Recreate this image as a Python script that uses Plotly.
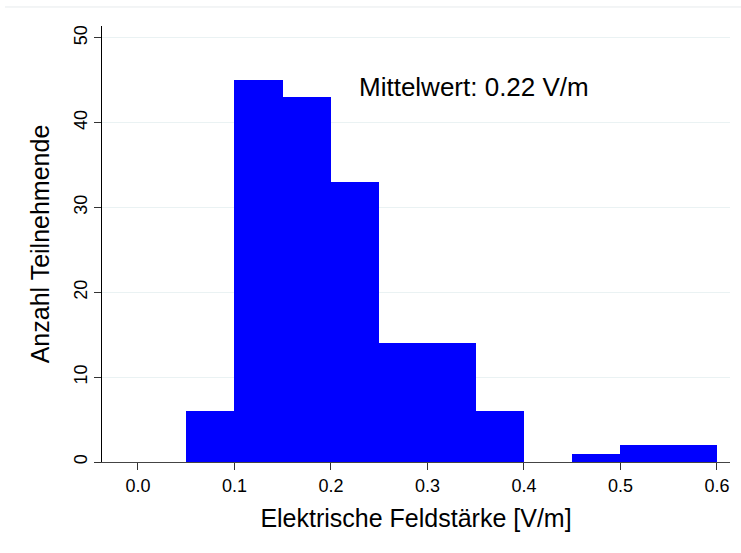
import plotly.graph_objects as go

# Histogram data: bin left edges (V/m) and counts
bin_left = [0.05, 0.10, 0.15, 0.20, 0.25, 0.30, 0.35, 0.40, 0.45, 0.50, 0.55]
counts = [6, 45, 43, 33, 14, 14, 6, 0, 1, 2, 2]
bin_width = 0.05
x_ticks = [0.0, 0.1, 0.2, 0.3, 0.4, 0.5, 0.6]
x_tick_labels = ["0.0", "0.1", "0.2", "0.3", "0.4", "0.5", "0.6"]
y_ticks = [0, 10, 20, 30, 40, 50]
mean_label = "Mittelwert: 0.22 V/m"

centers = [b + bin_width / 2 for b in bin_left]

FONT = "Liberation Sans, Arial, sans-serif"

fig = go.Figure()
fig.add_trace(go.Bar(
    x=centers, y=counts, width=[bin_width] * len(counts),
    marker=dict(color="#0000ff", line=dict(width=0)),
    hoverinfo="x+y",
))

fig.update_layout(
    width=741, height=553,
    margin=dict(l=102, r=11, t=26, b=91),
    paper_bgcolor="white", plot_bgcolor="white",
    showlegend=False,
    bargap=0,
    font=dict(family=FONT, color="black"),
    xaxis=dict(
        range=[-0.0373, 0.6135],
        tickvals=x_ticks, ticktext=x_tick_labels,
        ticks="outside", ticklen=7, tickcolor="#333",
        tickfont=dict(size=18, family=FONT),
        showgrid=False, zeroline=False,
        showline=True, linecolor="#444", linewidth=1,
        title=dict(text="Elektrische Feldstärke [V/m]", font=dict(size=25, family=FONT), standoff=14),
    ),
    yaxis=dict(
        range=[0, 51.4],
        tickvals=y_ticks,
        ticks="outside", ticklen=7, tickcolor="#333",
        tickangle=-90,
        tickfont=dict(size=18, family=FONT),
        showgrid=True, gridcolor="#eaf2f3", gridwidth=1,
        zeroline=False,
        showline=True, linecolor="black", linewidth=1,
        title=dict(text="Anzahl Teilnehmende", font=dict(size=25, family=FONT), standoff=14),
    ),
)

fig.add_annotation(
    x=0.227, y=44.2, xref="x", yref="y",
    text=mean_label, showarrow=False,
    xanchor="left", yanchor="middle",
    font=dict(size=26, family=FONT, color="black"),
)

# light frame line at top of graph region
fig.add_shape(type="line", xref="paper", yref="paper",
              x0=-0.1545, x1=1.0175, y0=1.0436, y1=1.0436,
              line=dict(color="#e6eaec", width=1))

fig.write_html("out.html", config={"displayModeBar": False},
               post_script="document.body.style.margin='0';")
